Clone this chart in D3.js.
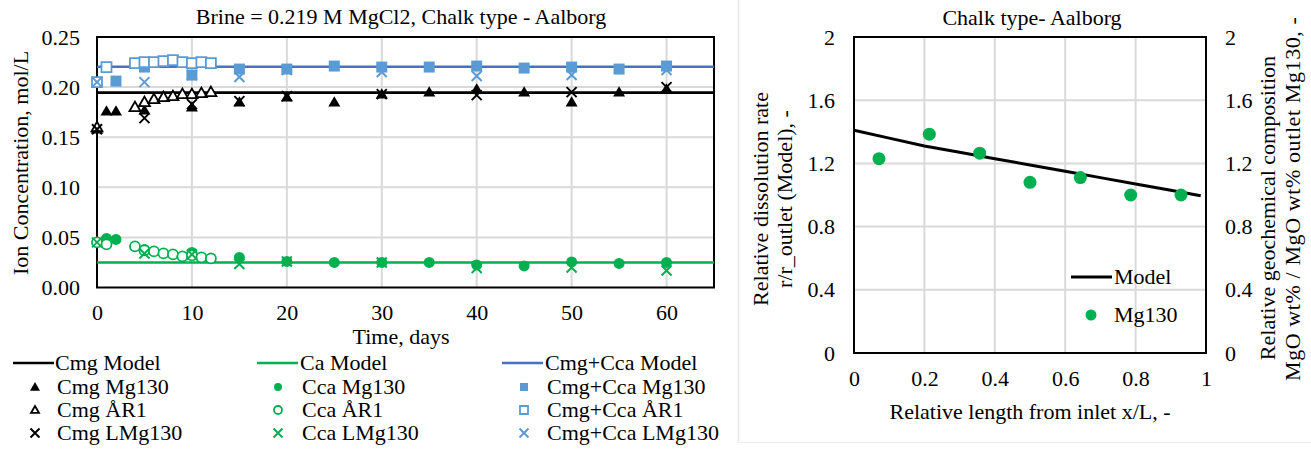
<!DOCTYPE html>
<html>
<head>
<meta charset="utf-8">
<script src="https://cdn.jsdelivr.net/npm/d3@7"></script>
<style>
  html, body { margin: 0; padding: 0; background: #fff; }
  svg text { font-family: "Liberation Serif", "Times New Roman", Tinos, "DejaVu Serif", serif; fill: #000; }
</style>
</head>
<body>
<svg id="chart" width="1311" height="449"></svg>
<script>
// ---- Left panel: ion concentrations vs time ----
const modelDays = [0, 65];
const cmgModel = [0.1945, 0.1945];
const caModel = [0.025, 0.025];
const sumModel = [0.2203, 0.2203];

const daysCmgMg130 = [0, 1, 2, 5, 10, 15, 20, 25, 30, 35, 40, 45, 50, 55, 60];
const cmgMg130 = [0.158, 0.176, 0.176, 0.177, 0.180, 0.185, 0.190, 0.185, 0.193, 0.195, 0.198, 0.195, 0.185, 0.195, 0.198];
const daysCcaMg130 = [1, 2, 5, 10, 15, 20, 25, 30, 35, 40, 45, 50, 55, 60];
const ccaMg130 = [0.049, 0.048, 0.038, 0.035, 0.030, 0.026, 0.025, 0.025, 0.025, 0.0225, 0.0215, 0.0255, 0.024, 0.025];
const daysSumMg130 = [2, 5, 10, 15, 20, 25, 30, 35, 40, 45, 50, 55, 60];
const sumMg130 = [0.206, 0.220, 0.212, 0.218, 0.218, 0.221, 0.220, 0.220, 0.221, 0.219, 0.220, 0.218, 0.221];

const daysCmgAR1 = [0, 4, 5, 6, 7, 8, 9, 10, 11, 12];
const cmgAR1 = [0.160, 0.180, 0.185, 0.188, 0.190, 0.191, 0.193, 0.193, 0.194, 0.195];
const daysAR1 = [0, 1, 4, 5, 6, 7, 8, 9, 10, 11, 12];
const ccaAR1 = [0.045, 0.043, 0.041, 0.037, 0.036, 0.034, 0.033, 0.031, 0.032, 0.030, 0.029];
const sumAR1 = [0.205, 0.220, 0.224, 0.225, 0.225, 0.226, 0.227, 0.225, 0.224, 0.225, 0.224];

const daysLMg130 = [0, 5, 10, 15, 20, 30, 40, 50, 60];
const cmgLMg130 = [0.158, 0.169, 0.183, 0.186, 0.191, 0.193, 0.192, 0.195, 0.200];
const ccaLMg130 = [0.045, 0.034, 0.033, 0.0235, 0.026, 0.025, 0.0195, 0.020, 0.017];
const sumLMg130 = [0.205, 0.205, 0.212, 0.210, 0.217, 0.215, 0.211, 0.212, 0.217];

const leftXTicks = [0, 10, 20, 30, 40, 50, 60];
const leftYTicks = [0, 0.05, 0.10, 0.15, 0.20, 0.25];

// ---- Right panel: relative rate vs relative length ----
const lengthModel = [0, 0.1, 0.2, 0.3, 0.4, 0.5, 0.6, 0.7, 0.8, 0.9, 0.985];
const rateModel = [1.41, 1.36, 1.31, 1.27, 1.23, 1.19, 1.15, 1.11, 1.07, 1.03, 0.995];
const lengthMg130 = [0.071, 0.214, 0.357, 0.5, 0.643, 0.786, 0.929];
const compMg130 = [1.23, 1.385, 1.265, 1.08, 1.11, 1.0, 1.0];

const rightXTicks = [0, 0.2, 0.4, 0.6, 0.8, 1];
const rightYTicks = [0, 0.4, 0.8, 1.2, 1.6, 2];

const BLACK = "#000000", GREEN = "#00b050", BLUE_LINE = "#4472c4", BLUE = "#5b9bd5", GRID = "#d9d9d9";
const FONT = 22;
const FAMILY = '"Liberation Serif", "Times New Roman", Tinos, "DejaVu Serif", serif';

const svg = d3.select("#chart");

// panel separator
svg.append("line").attr("x1", 738.5).attr("x2", 738.5).attr("y1", 0).attr("y2", 442)
  .attr("stroke", "#e6e6e6").attr("stroke-width", 1.5);
svg.append("line").attr("x1", 738).attr("x2", 1311).attr("y1", 442.5).attr("y2", 442.5)
  .attr("stroke", "#ececec").attr("stroke-width", 1);

function txt(g, x, y, s, anchor) {
  return g.append("text").attr("x", x).attr("y", y).attr("text-anchor", anchor || "start")
    .style("font-family", FAMILY).style("font-size", FONT + "px").text(s);
}
function vtxt(g, x, y, s, anchor) {
  return g.append("text").attr("transform", `translate(${x},${y}) rotate(-90)`).attr("text-anchor", anchor || "middle")
    .style("font-family", FAMILY).style("font-size", FONT + "px").text(s);
}

// marker painter
function marker(g, x, y, type, color, s) {
  if (type === "x") {
    const h = s / 2;
    g.append("path").attr("d", `M${x - h},${y - h}L${x + h},${y + h}M${x - h},${y + h}L${x + h},${y - h}`)
      .attr("stroke", color).attr("stroke-width", 2).attr("fill", "none");
    return;
  }
  const open = type.startsWith("open");
  const base = type.replace("open-", "");
  let sym, area;
  if (base === "triangle") { sym = d3.symbolTriangle; area = Math.sqrt(3) / 4 * s * s; }
  else if (base === "square") { sym = d3.symbolSquare; area = s * s; }
  else { sym = d3.symbolCircle; area = Math.PI * s * s / 4; }
  const p = g.append("path").attr("d", d3.symbol(sym, area)())
    .attr("transform", `translate(${x},${base === "triangle" ? y + s * 0.08 : y})`);
  if (open) p.attr("fill", "#fff").attr("stroke", color).attr("stroke-width", 1.8);
  else p.attr("fill", color).attr("stroke", "none");
}

function styleAxis(a) {
  a.select(".domain").remove();
  a.attr("font-family", null).attr("font-size", null);
  a.selectAll("text").style("font-size", FONT + "px").style("font-family", FAMILY).attr("fill", "#000");
}

// ================= LEFT CHART =================
const L = { x0: 97, x1: 714, y0: 287.5, y1: 37 };
const xL = d3.scaleLinear().domain([0, 65]).range([L.x0, L.x1]);
const yL = d3.scaleLinear().domain([0, 0.25]).range([L.y0, L.y1]);
const gL = svg.append("g");

gL.append("g").selectAll("line").data(leftXTicks.filter(d => d > 0)).join("line")
  .attr("x1", d => xL(d)).attr("x2", d => xL(d)).attr("y1", L.y1).attr("y2", L.y0)
  .attr("stroke", GRID).attr("stroke-width", 2);
gL.append("g").selectAll("line").data(leftYTicks.filter(d => d > 0)).join("line")
  .attr("x1", L.x0).attr("x2", L.x1).attr("y1", d => yL(d)).attr("y2", d => yL(d))
  .attr("stroke", GRID).attr("stroke-width", 2);

const axB = gL.append("g").attr("transform", `translate(0,${L.y0 + 7})`)
  .call(d3.axisBottom(xL).tickValues(leftXTicks).tickSize(0).tickPadding(10).tickFormat(d3.format("d")));
const axLft = gL.append("g").attr("transform", `translate(${L.x0 - 17},0)`)
  .call(d3.axisLeft(yL).tickValues(leftYTicks).tickSize(0).tickPadding(0).tickFormat(d3.format(".2f")));
styleAxis(axB); styleAxis(axLft);

gL.append("rect").attr("x", L.x0).attr("y", L.y1).attr("width", L.x1 - L.x0).attr("height", L.y0 - L.y1)
  .attr("fill", "none").attr("stroke", BLACK).attr("stroke-width", 2);

const lineL = d3.line().x(d => xL(d[0])).y(d => yL(d[1]));
[[cmgModel, BLACK], [caModel, GREEN], [sumModel, BLUE_LINE]].forEach(([vals, c]) => {
  gL.append("path").datum(modelDays.map((t, i) => [t, vals[i]])).attr("d", lineL)
    .attr("fill", "none").attr("stroke", c).attr("stroke-width", 2.6);
});

const seriesL = [
  [daysCmgMg130, cmgMg130, "triangle", BLACK, 12],
  [daysCcaMg130, ccaMg130, "circle", GREEN, 11],
  [daysSumMg130, sumMg130, "square", BLUE, 11],
  [daysCmgAR1, cmgAR1, "open-triangle", BLACK, 11],
  [daysAR1, ccaAR1, "open-circle", GREEN, 10],
  [daysAR1, sumAR1, "open-square", BLUE, 10],
  [daysLMg130, cmgLMg130, "x", BLACK, 10],
  [daysLMg130, ccaLMg130, "x", GREEN, 10],
  [daysLMg130, sumLMg130, "x", BLUE, 10]
];
seriesL.forEach(([ts, vs, type, c, s]) => {
  const g = gL.append("g");
  ts.forEach((t, i) => marker(g, xL(t), yL(vs[i]), type, c, s));
});

txt(gL, 401, 24, "Brine = 0.219 M MgCl2,  Chalk type - Aalborg", "middle");
txt(gL, 401, 344, "Time, days", "middle");
vtxt(gL, 28, 163, "Ion Concentration, mol/L");

// legend
const legRows = [363, 387, 410, 433];
const legCols = [{ lx: 13, mx: 35, tx: 57 }, { lx: 257, mx: 278, tx: 302 }, { lx: 502, mx: 524, tx: 547 }];
const legItems = [
  ["line", BLACK, "Cmg Model"], ["line", GREEN, "Ca Model"], ["line", BLUE_LINE, "Cmg+Cca Model"],
  ["triangle", BLACK, "Cmg Mg130"], ["circle", GREEN, "Cca Mg130"], ["square", BLUE, "Cmg+Cca Mg130"],
  ["open-triangle", BLACK, "Cmg ÅR1"], ["open-circle", GREEN, "Cca ÅR1"], ["open-square", BLUE, "Cmg+Cca ÅR1"],
  ["x", BLACK, "Cmg LMg130"], ["x", GREEN, "Cca LMg130"], ["x", BLUE, "Cmg+Cca LMg130"]
];
const gLeg = svg.append("g");
legItems.forEach(([type, c, label], i) => {
  const col = legCols[i % 3], y = legRows[Math.floor(i / 3)];
  if (type === "line") {
    gLeg.append("line").attr("x1", col.lx).attr("x2", col.lx + 41).attr("y1", y).attr("y2", y)
      .attr("stroke", c).attr("stroke-width", 2.6);
    txt(gLeg, col.tx - 2, y + 7, label);
  } else {
    const sz = type === "triangle" ? 10 : type === "open-triangle" ? 8 : type === "x" ? 9 : 8;
    marker(gLeg, col.mx, y, type, c, sz);
    txt(gLeg, col.tx, y + 7, label);
  }
});

// ================= RIGHT CHART =================
const R = { x0: 854, x1: 1206, y0: 353, y1: 37 };
const xR = d3.scaleLinear().domain([0, 1]).range([R.x0, R.x1]);
const yR = d3.scaleLinear().domain([0, 2]).range([R.y0, R.y1]);
const gR = svg.append("g");

gR.append("g").selectAll("line").data(rightXTicks.filter(d => d > 0 && d < 1)).join("line")
  .attr("x1", d => xR(d)).attr("x2", d => xR(d)).attr("y1", R.y1).attr("y2", R.y0)
  .attr("stroke", GRID).attr("stroke-width", 2);
gR.append("g").selectAll("line").data(rightYTicks.filter(d => d > 0)).join("line")
  .attr("x1", R.x0).attr("x2", R.x1).attr("y1", d => yR(d)).attr("y2", d => yR(d))
  .attr("stroke", GRID).attr("stroke-width", 2);

const fmtR = d => (d === 0 || d === 1 || d === 2) ? String(d) : d3.format(".1f")(d);
const axRB = gR.append("g").attr("transform", `translate(0,${R.y0 + 17})`)
  .call(d3.axisBottom(xR).tickValues(rightXTicks).tickSize(0).tickPadding(0).tickFormat(fmtR));
const axRL = gR.append("g").attr("transform", `translate(${R.x0 - 19},0)`)
  .call(d3.axisLeft(yR).tickValues(rightYTicks).tickSize(0).tickPadding(0).tickFormat(fmtR));
const axRR = gR.append("g").attr("transform", `translate(${R.x1 + 19},0)`)
  .call(d3.axisRight(yR).tickValues(rightYTicks).tickSize(0).tickPadding(0).tickFormat(fmtR));
[axRB, axRL, axRR].forEach(styleAxis);

gR.append("rect").attr("x", R.x0).attr("y", R.y1).attr("width", R.x1 - R.x0).attr("height", R.y0 - R.y1)
  .attr("fill", "none").attr("stroke", BLACK).attr("stroke-width", 2);

const lineR = d3.line().x(d => xR(d[0])).y(d => yR(d[1]));
gR.append("path").datum(lengthModel.map((x, i) => [x, rateModel[i]])).attr("d", lineR)
  .attr("fill", "none").attr("stroke", BLACK).attr("stroke-width", 3);
lengthMg130.forEach((x, i) => marker(gR, xR(x), yR(compMg130[i]), "circle", GREEN, 13));

txt(gR, 1032, 25, "Chalk type- Aalborg", "middle");
txt(gR, 1030, 419, "Relative length from inlet x/L, -", "middle");
vtxt(gR, 768, 199, "Relative dissolution rate");
vtxt(gR, 792, 199, "r/r_outlet (Model), -");
vtxt(gR, 1275, 208, "Relative geochemical composition");
vtxt(gR, 1300, 381, "MgO wt% / MgO wt% outlet Mg130, -", "start").style("letter-spacing", "0.6px");

gR.append("line").attr("x1", 1071).attr("x2", 1112).attr("y1", 277).attr("y2", 277)
  .attr("stroke", BLACK).attr("stroke-width", 3);
txt(gR, 1114, 284, "Model");
marker(gR, 1091, 315, "circle", GREEN, 11);
txt(gR, 1114, 322, "Mg130");
</script>
</body>
</html>
